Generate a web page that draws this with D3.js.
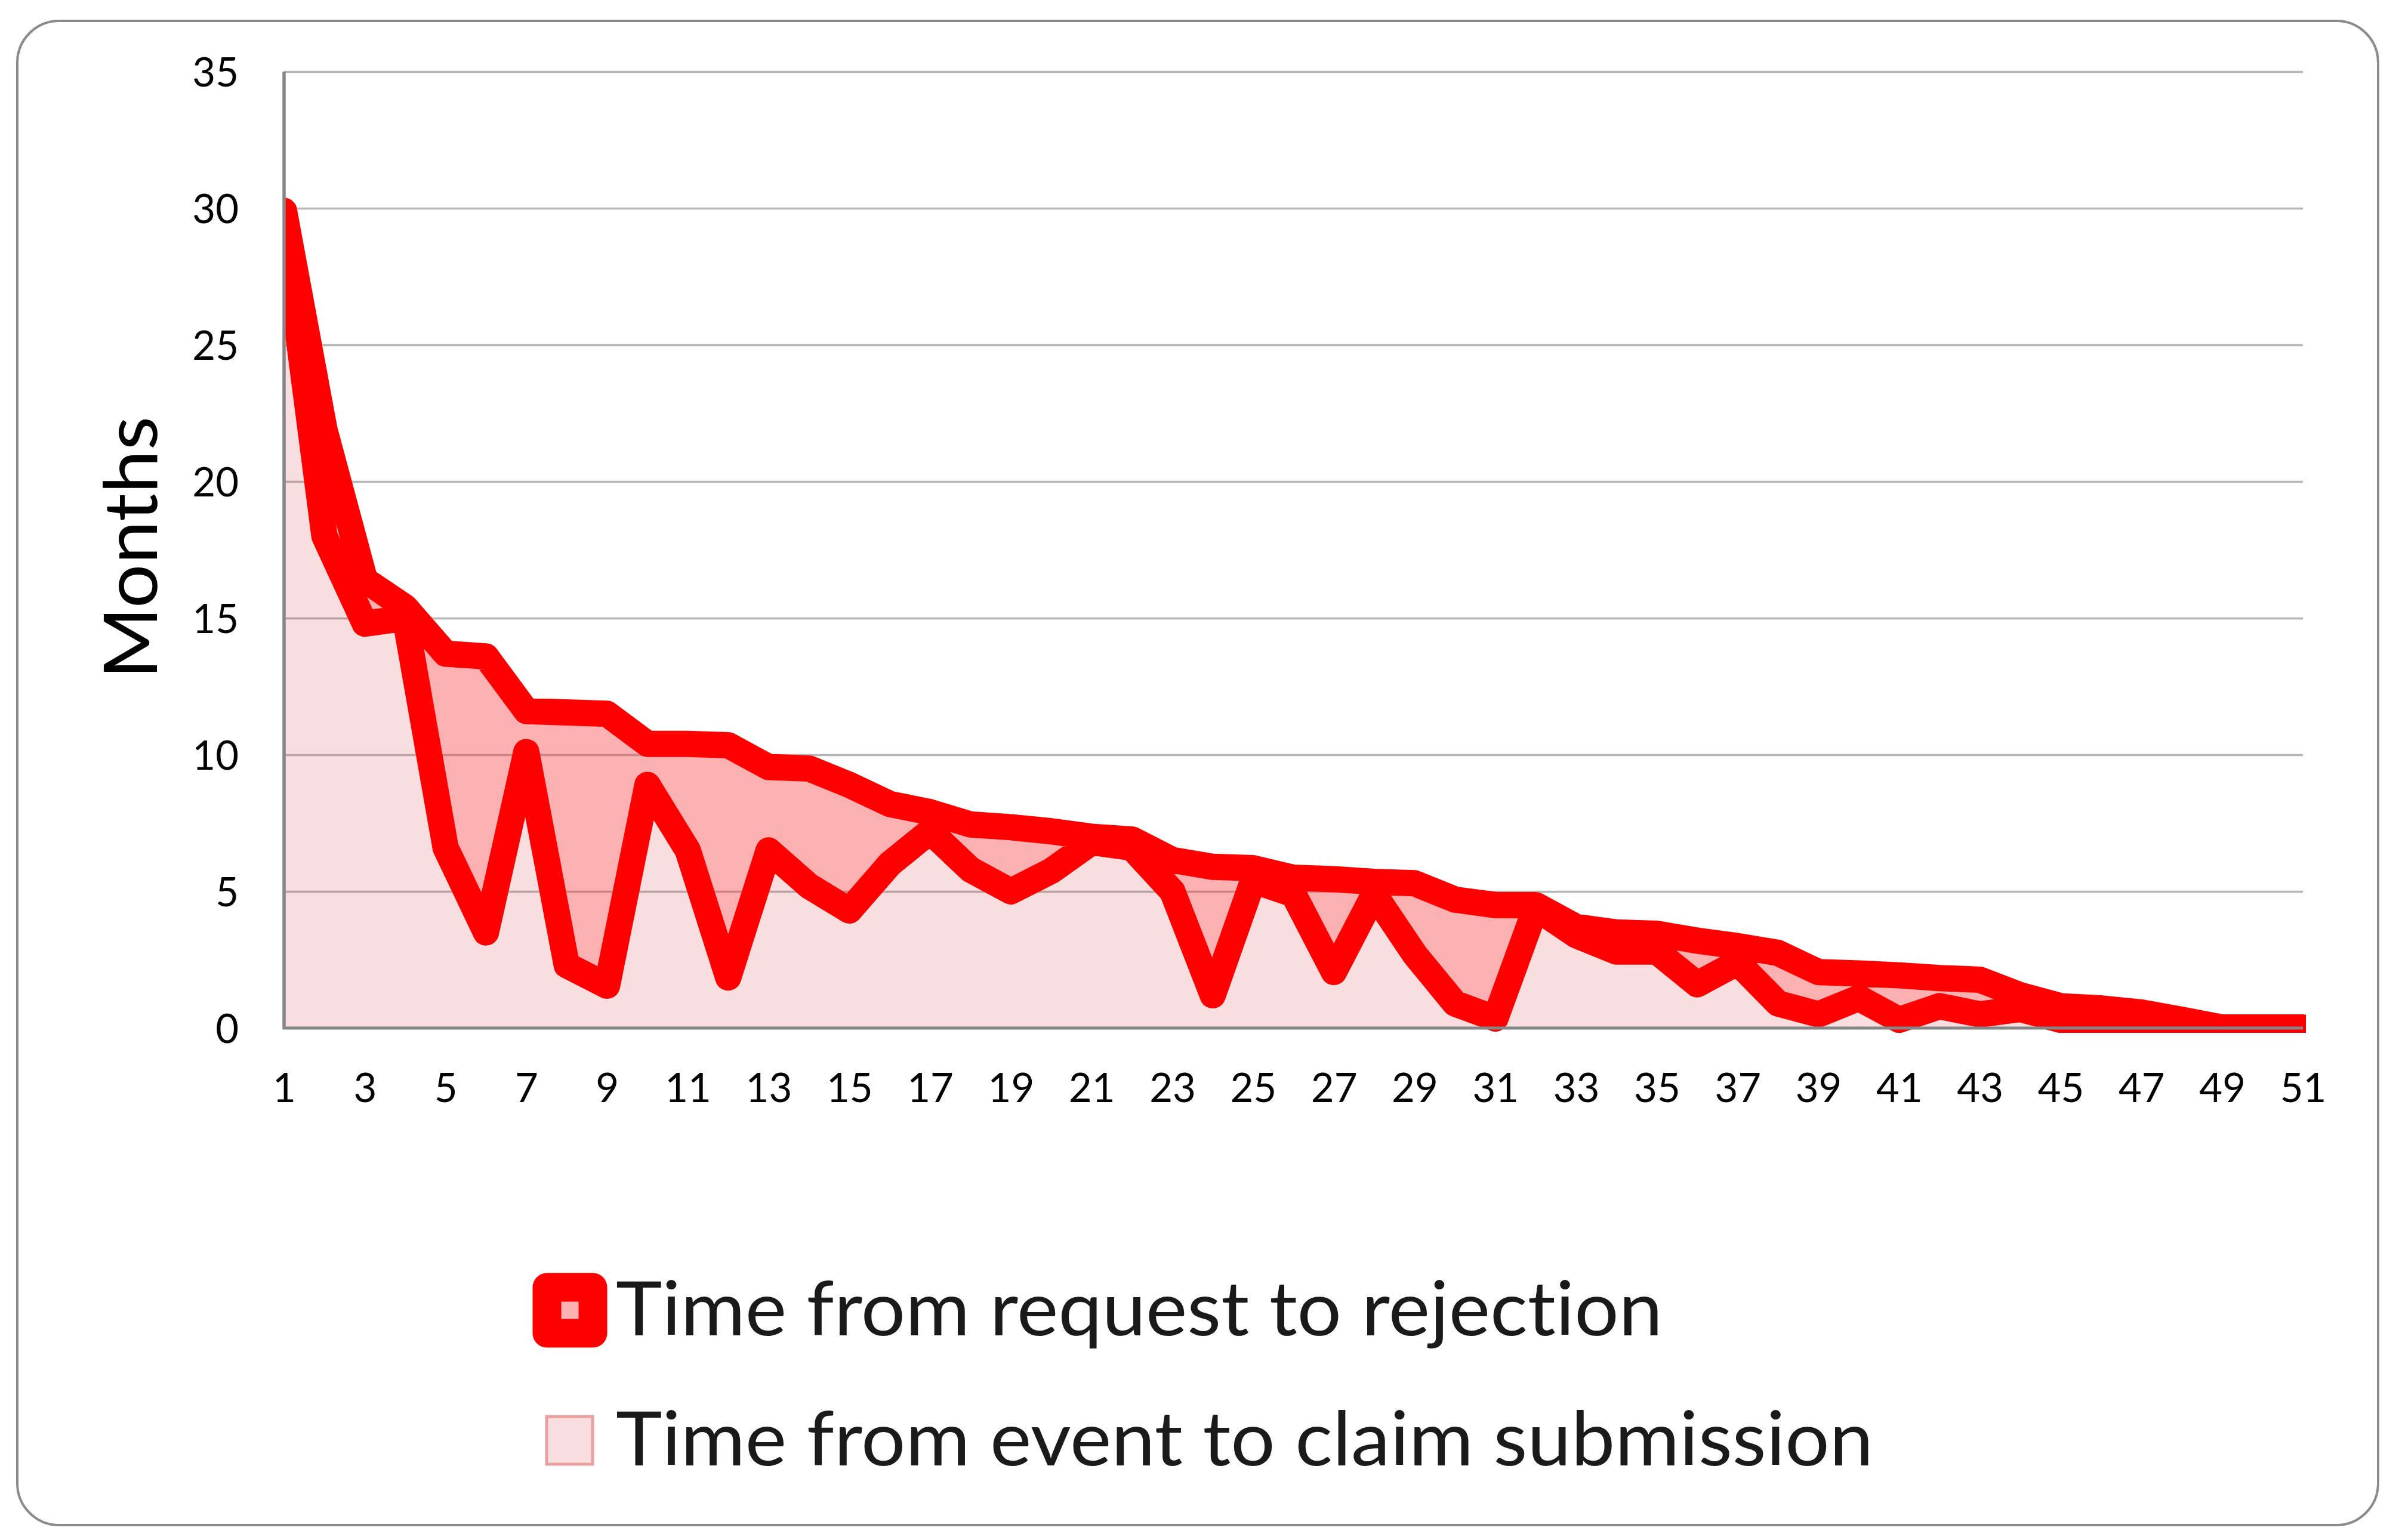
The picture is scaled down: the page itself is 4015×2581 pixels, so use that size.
<!DOCTYPE html>
<html><head><meta charset="utf-8">
<script src="https://cdn.jsdelivr.net/npm/d3@7"></script>
<style>html,body{margin:0;padding:0;background:#fff} text{font-variant-ligatures:none;font-feature-settings:"liga" 0,"clig" 0}</style>
</head><body>
<svg id="chart" width="4015" height="2581" xmlns="http://www.w3.org/2000/svg"></svg>
<script>
// ---- data ----
const categories = [1,2,3,4,5,6,7,8,9,10,11,12,13,14,15,16,17,18,19,20,21,22,23,24,25,26,27,28,29,30,31,32,33,34,35,36,37,38,39,40,41,42,43,44,45,46,47,48,49,50,51];
// bottom (stacked first) series
const eventToClaim = [29.4,18.0,14.8,15.0,6.6,3.5,10.1,2.3,1.55,8.9,6.5,1.85,6.5,5.2,4.3,6.0,7.2,5.8,5.0,5.75,6.8,6.6,5.0,1.2,5.4,4.9,2.05,4.9,2.7,0.9,0.35,4.4,3.4,2.8,2.8,1.6,2.4,0.9,0.5,1.1,0.3,0.8,0.5,0.7,0.3,0.2,0.15,0.1,0.02,0.02,0.02];
// stacked on top
const requestToRejection = [0.5,3.9,1.6,0.4,7.1,10.1,1.5,9.25,9.95,1.5,3.9,8.5,3.05,4.3,4.6,2.2,0.7,1.65,2.35,1.45,0.2,0.3,1.15,4.7,0.45,0.6,3.4,0.45,2.6,3.8,4.15,0.1,0.3,0.7,0.65,1.6,0.6,1.85,1.55,0.9,1.63,1.03,1.27,0.5,0.5,0.52,0.42,0.2,0,0,0];
const seriesNames = ["Time from request to rejection", "Time from event to claim submission"];
const yTicks = [0,5,10,15,20,25,30,35];
const xTickLabels = [1,3,5,7,9,11,13,15,17,19,21,23,25,27,29,31,33,35,37,39,41,43,45,47,49,51];
const yTitle = "Months";

// ---- layout ----
const FONT = "Lato, 'Open Sans', sans-serif";
const L = 476, R = 3859, T = 120, B = 1723;
const svg = d3.select("#chart");

svg.append("rect").attr("x",29).attr("y",35).attr("width",3956).attr("height",2521)
  .attr("rx",70).attr("ry",70).attr("fill","#fff").attr("stroke","#8a8a8a").attr("stroke-width",4);

const x = d3.scalePoint().domain(categories).range([L, R]);
const y = d3.scaleLinear().domain([0,35]).range([B, T]);

// gridlines
const grid = svg.append("g").attr("transform",`translate(${L},0)`)
  .call(d3.axisLeft(y).tickValues(yTicks.filter(v=>v>0)).tickSize(-(R-L)).tickFormat(""));
grid.select(".domain").remove();
grid.selectAll("line").attr("stroke","#b5b5b5").attr("stroke-width",3.5);

// data rows and stack
const rows = categories.map((c,i)=>({cat:c, event:eventToClaim[i], request:requestToRejection[i]}));
const stacked = d3.stack().keys(["event","request"])(rows);

svg.append("defs").append("clipPath").attr("id","plotclip")
  .append("rect").attr("x",L).attr("y",0).attr("width",R-L+5).attr("height",B+8);

const area = d3.area().x(d=>x(d.data.cat)).y0(d=>y(d[0])).y1(d=>y(d[1]));
const gS = svg.append("g").attr("clip-path","url(#plotclip)");

gS.append("path").datum(stacked[0]).attr("d",area)
  .attr("fill","rgba(220,90,90,0.2)").attr("stroke","#e9a0a0").attr("stroke-width",4);
gS.append("path").datum(stacked[1]).attr("d",area)
  .attr("fill","rgba(245,60,60,0.4)").attr("stroke","#ff0000").attr("stroke-width",44)
  .attr("stroke-linejoin","round");

// y axis labels
const ya = svg.append("g").attr("transform",`translate(${L},0)`)
  .call(d3.axisLeft(y).tickValues(yTicks).tickSize(0).tickPadding(76));
ya.select(".domain").remove();
ya.selectAll("text").attr("font-family",FONT).attr("font-size",67).attr("fill","#000").attr("dy","0.36em");

// x axis labels
const xa = svg.append("g").attr("transform",`translate(0,${B})`)
  .call(d3.axisBottom(x).tickValues(xTickLabels).tickSize(0).tickPadding(76));
xa.select(".domain").remove();
xa.selectAll("text").attr("font-family",FONT).attr("font-size",67).attr("fill","#000");

// axis lines on top
svg.append("line").attr("x1",L).attr("x2",L).attr("y1",T).attr("y2",B+2)
  .attr("stroke","#868686").attr("stroke-width",5.5);
svg.append("line").attr("x1",L-2).attr("x2",R).attr("y1",B).attr("y2",B)
  .attr("stroke","#868686").attr("stroke-width",5);

// y title
svg.append("text").attr("transform","translate(263,918) rotate(-90)")
  .attr("text-anchor","middle").attr("font-family",FONT).attr("font-size",124)
  .attr("textLength",440).attr("lengthAdjust","spacingAndGlyphs").attr("fill","#000").text(yTitle);

// legend
const lg = svg.append("g");
lg.append("rect").attr("x",955-38.5).attr("y",2196-38.5).attr("width",77).attr("height",77)
  .attr("fill","rgba(245,60,60,0.4)").attr("stroke","#ff0000").attr("stroke-width",48).attr("stroke-linejoin","round");
lg.append("text").attr("x",1032).attr("y",2238).attr("font-family",FONT).attr("font-size",127)
  .attr("textLength",1754).attr("lengthAdjust","spacingAndGlyphs").attr("fill","#1a1a1a").text(seriesNames[0]);
lg.append("rect").attr("x",916).attr("y",2374).attr("width",77).attr("height",80)
  .attr("fill","rgba(220,90,90,0.2)").attr("stroke","#e9a0a0").attr("stroke-width",5);
lg.append("text").attr("x",1032).attr("y",2456).attr("font-family",FONT).attr("font-size",127)
  .attr("textLength",2107).attr("lengthAdjust","spacingAndGlyphs").attr("fill","#1a1a1a").text(seriesNames[1]);
</script>
</body></html>
